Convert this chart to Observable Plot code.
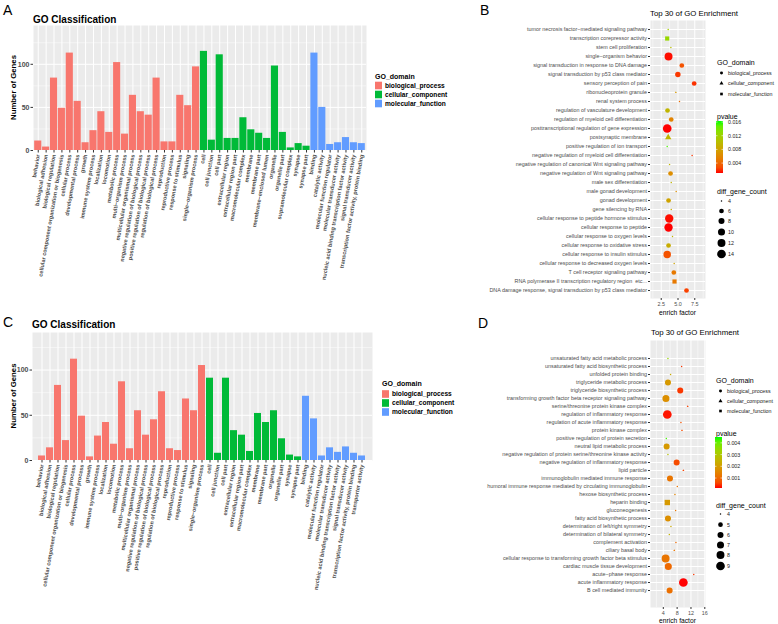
<!DOCTYPE html>
<html><head><meta charset="utf-8">
<script src="https://cdn.jsdelivr.net/npm/d3@7"></script>
<script src="https://cdn.jsdelivr.net/npm/@observablehq/plot@0.6"></script>
<style>
body{margin:0;background:#fff;}
#root{position:relative;width:778px;height:624px;overflow:hidden;background:#fff;}
</style></head><body><div id="root"></div>
<script>
const FONT = "Liberation Sans, Arial, Helvetica, sans-serif";
const domainNames = ["biological_process","cellular_component","molecular_function"];
const domainColors = ["#F8766D","#00BA38","#619CFF"];
const domainCode = {BP:"biological_process", CC:"cellular_component", MF:"molecular_function"};

// ---------- Panel A ----------
const bpTermsA = ["behavior","biological adhesion","biological regulation","cellular component organization or biogenesis","cellular process","developmental process","growth","immune system process","localization","locomotion","metabolic process","multi−organism process","multicellular organismal process","negative regulation of biological process","positive regulation of biological process","regulation of biological process","reproduction","reproductive process","response to stimulus","signaling","single−organism process"];
const bpCountsA = [11,4,84,49,113,57,9,23,45,21,102,19,64,45,41,84,10,10,64,52,97];
const ccTermsA = ["cell","cell junction","cell part","extracellular region","extracellular region part","macromolecular complex","membrane","membrane part","membrane−enclosed lumen","organelle","organelle part","supramolecular complex","synapse","synapse part"];
const ccCountsA = [115,12,111,14,14,38,24,20,14,98,21,3,8,5];
const mfTermsA = ["binding","catalytic activity","molecular function regulator","molecular transducer activity","nucleic acid binding transcription factor activity","signal transducer activity","transcription factor activity, protein binding"];
const mfCountsA = [113,50,7,9,15,9,8];

// ---------- Panel C ----------
const bpTermsC = bpTermsA;
const bpCountsC = [5,14,83,22,112,49,4,27,42,18,87,13,55,28,45,76,13,11,68,55,105];
const ccTermsC = ["cell","cell junction","cell part","extracellular region","extracellular region part","macromolecular complex","membrane","membrane part","organelle","organelle part","synapse","synapse part"];
const ccCountsC = [91,8,91,33,28,10,52,42,55,24,6,4];
const mfTermsC = ["binding","catalytic activity","molecular function regulator","molecular transducer activity","nucleic acid binding transcription factor activity","signal transducer activity","transcription factor activity, protein binding","transporter activity"];
const mfCountsC = [71,46,5,14,9,15,8,5];

const yTicksBar = [0,50,100];
const yMinorBar = [25,75,125];

// ---------- Panel B ----------
const termsB = ["tumor necrosis factor−mediated signaling pathway","transcription corepressor activity","stem cell proliferation","single−organism behavior","signal transduction in response to DNA damage","signal transduction by p53 class mediator","sensory perception of pain","ribonucleoprotein granule","renal system process","regulation of vasculature development","regulation of myeloid cell differentiation","posttranscriptional regulation of gene expression","postsynaptic membrane","positive regulation of ion transport","negative regulation of myeloid cell differentiation","negative regulation of canonical Wnt signaling pathway","negative regulation of Wnt signaling pathway","male sex differentiation","male gonad development","gonad development","gene silencing by RNA","cellular response to peptide hormone stimulus","cellular response to peptide","cellular response to oxygen levels","cellular response to oxidative stress","cellular response to insulin stimulus","cellular response to decreased oxygen levels","T cell receptor signaling pathway","RNA polymerase II transcription regulatory region  etc...","DNA damage response, signal transduction by p53 class mediator"];
const factorB = [3.54,3.39,3.94,3.59,5.57,4.98,7.41,4.68,5.22,3.44,3.99,3.39,3.54,3.39,7.11,3.74,3.89,3.99,4.73,3.59,3.99,3.69,3.59,4.18,3.59,3.39,4.43,4.38,4.48,6.27];
const countB = [4,6,4,12,6,7,6,4,4,6,6,14,6,4,4,4,6,4,4,6,4,13,13,4,6,11,4,6,6,6];
const pvalueB = [0.0118,0.0125,0.0102,0.0012,0.0030,0.0020,0.0018,0.0072,0.0042,0.0095,0.0057,0.0011,0.0095,0.0155,0.0019,0.0095,0.0064,0.0095,0.0064,0.0080,0.0087,0.0012,0.0011,0.0095,0.0087,0.0030,0.0080,0.0050,0.0050,0.0023];
const domainB = ["BP","MF","BP","BP","BP","BP","BP","CC","BP","BP","BP","BP","CC","BP","BP","BP","BP","BP","BP","BP","BP","BP","BP","BP","BP","BP","BP","BP","MF","BP"];
const xDomainB = [0.9,9.1], xTicksB = [2.5,5,7.5], xMinorB = [1.25,3.75,6.25,8.75];
const pDomainB = [0.0011,0.0163], pTicksB = [0.004,0.008,0.012,0.016];
const sizeTicksB = [4,6,8,10,12,14];

// ---------- Panel D ----------
const termsD = ["unsaturated fatty acid metabolic process","unsaturated fatty acid biosynthetic process","unfolded protein binding","triglyceride metabolic process","triglyceride biosynthetic process","transforming growth factor beta receptor signaling pathway","serine/threonine protein kinase complex","regulation of inflammatory response","regulation of acute inflammatory response","protein kinase complex","positive regulation of protein secretion","neutral lipid metabolic process","negative regulation of protein serine/threonine kinase activity","negative regulation of inflammatory response","lipid particle","immunoglobulin mediated immune response","humoral immune response mediated by circulating immunoglobulin","hexose biosynthetic process","heparin binding","gluconeogenesis","fatty acid biosynthetic process","determination of left/right symmetry","determination of bilateral symmetry","complement activation","ciliary basal body","cellular response to transforming growth factor beta stimulus","cardiac muscle tissue development","acute−phase response","acute inflammatory response","B cell mediated immunity"];
const factorD = [5.35,9.3,6.1,5.35,8.9,4.76,11.05,5.16,9.1,9.4,4.87,4.96,5.35,7.86,9.8,5.93,8.06,7.37,5.16,7.57,5.35,6.2,5.74,7.66,7.18,4.67,5.45,12.8,9.8,5.83];
const countD = [4,4,4,6,6,7,4,9,4,4,4,6,4,6,4,6,4,4,6,4,6,4,4,4,4,8,7,4,9,6];
const pvalueD = [0.0034,0.0004,0.0023,0.0019,0.0004,0.0017,0.0005,0.0002,0.0007,0.0006,0.0043,0.0019,0.0028,0.0006,0.0005,0.0012,0.0012,0.0015,0.0019,0.0012,0.0017,0.0023,0.0025,0.0010,0.0012,0.0012,0.0010,0.0004,0.00015,0.0011];
const domainD = ["BP","BP","MF","BP","BP","BP","CC","BP","BP","CC","BP","BP","BP","BP","CC","BP","BP","BP","MF","BP","BP","BP","BP","BP","CC","BP","BP","BP","BP","BP"];
const xDomainD = [0.3,16.2], xTicksD = [4,8,12,16], xMinorD = [2,6,10,14];
const pDomainD = [0.00015,0.0045], pTicksD = [0.001,0.002,0.003,0.004];
const sizeTicksD = [4,5,6,7,8,9];

// ---------- builders ----------
function barRows(bpT,bpC,ccT,ccC,mfT,mfC){
  const rows=[];
  bpT.forEach((t,i)=>rows.push({term:t,count:bpC[i],domain:domainNames[0]}));
  ccT.forEach((t,i)=>rows.push({term:t,count:ccC[i],domain:domainNames[1]}));
  mfT.forEach((t,i)=>rows.push({term:t,count:mfC[i],domain:domainNames[2]}));
  return rows;
}
function dotRows(terms,factor,count,pv,dom){
  return terms.map((t,i)=>({term:t,factor:factor[i],count:count[i],pvalue:pv[i],domain:domainCode[dom[i]]}));
}

function barChart(rows,o){
  return Plot.plot({
    width:o.width,height:o.height,marginTop:o.mt,marginBottom:o.mb,marginLeft:o.ml,marginRight:o.mr,
    style:{fontFamily:FONT,background:"transparent",overflow:"visible"},
    x:{domain:rows.map(d=>d.term),paddingInner:0.1,paddingOuter:0.15,label:null},
    y:{domain:[0,o.ymax],label:null},
    color:{domain:domainNames,range:domainColors},
    marks:[
      Plot.frame({fill:"#EBEBEB",stroke:null}),
      Plot.ruleY(yMinorBar.filter(v=>v<o.ymax),{stroke:"white",strokeWidth:0.5}),
      Plot.ruleY(yTicksBar,{stroke:"white",strokeWidth:1}),
      Plot.ruleX(rows,{x:"term",stroke:"white",strokeWidth:1}),
      Plot.barY(rows,{x:"term",y:"count",fill:"domain"}),
      Plot.axisX({tickRotate:-80,tickSize:2.5,tickPadding:1.5,fontSize:5.6,fontWeight:"bold",fill:"#4D4D4D",stroke:"#333",label:null}),
      Plot.axisY({ticks:yTicksBar,tickSize:2.5,tickPadding:1.5,fontSize:7,fontWeight:"bold",fill:"#4D4D4D",stroke:"#333",label:null})
    ]
  });
}

function dotChart(rows,o){
  return Plot.plot({
    width:o.width,height:o.height,marginTop:o.mt,marginBottom:o.mb,marginLeft:o.ml,marginRight:o.mr,
    style:{fontFamily:FONT,background:"transparent",overflow:"visible"},
    x:{domain:o.xdomain,label:null},
    y:{type:"point",domain:rows.map(d=>d.term),padding:0.6,label:null},
    color:{type:"linear",domain:o.pdomain,range:["#FF0000","#00FF00"],interpolate:d3.interpolateLab},
    r:{type:"sqrt",domain:[0,o.smax-4],range:[0.75,4.35]},
    symbol:{domain:domainNames,range:["circle","triangle","square"]},
    marks:[
      Plot.frame({fill:"#EBEBEB",stroke:null}),
      Plot.ruleX(o.xminor,{stroke:"white",strokeWidth:0.5}),
      Plot.ruleX(o.xticks,{stroke:"white",strokeWidth:1}),
      Plot.ruleY(rows,{y:"term",stroke:"white",strokeWidth:1}),
      Plot.dot(rows,{x:"factor",y:"term",r:d=>d.count-4,fill:"pvalue",symbol:"domain"}),
      Plot.axisX({ticks:o.xticks,tickFormat:o.tickFormat,tickSize:2,tickPadding:1.5,fontSize:5.4,fill:"#4D4D4D",stroke:"#333",label:null}),
      Plot.axisY({tickSize:2,tickPadding:1.5,fontSize:5.4,fill:"#4D4D4D",stroke:"#333",label:null})
    ]
  });
}

const root = document.getElementById("root");
function place(el,left,top){el.style.position="absolute";el.style.left=left+"px";el.style.top=top+"px";root.appendChild(el);}

const rowsA = barRows(bpTermsA,bpCountsA,ccTermsA,ccCountsA,mfTermsA,mfCountsA);
const rowsC = barRows(bpTermsC,bpCountsC,ccTermsC,ccCountsC,mfTermsC,mfCountsC);
const rowsB = dotRows(termsB,factorB,countB,pvalueB,domainB);
const rowsD = dotRows(termsD,factorD,countD,pvalueD,domainD);

const chartA = barChart(rowsA,{width:372,height:300,mt:25,mb:150,ml:33,mr:6,ymax:145});
place(chartA,0,0);
const chartC = barChart(rowsC,{width:376,height:324,mt:32,mb:164,ml:32,mr:4,ymax:141.5});
place(chartC,0,300);
const chartB = dotChart(rowsB,{width:232,height:320,mt:20,mb:22,ml:172,mr:5,xdomain:xDomainB,xticks:xTicksB,xminor:xMinorB,pdomain:pDomainB,smax:14,tickFormat:d3.format(".1f")});
place(chartB,478,0);
const chartD = dotChart(rowsD,{width:232,height:304,mt:20,mb:17,ml:172,mr:5,xdomain:xDomainD,xticks:xTicksD,xminor:xMinorD,pdomain:pDomainD,smax:9,tickFormat:d3.format("d")});
place(chartD,478,320);

// ---------- overlay text & legends ----------
const ov = d3.select(root).append("svg").attr("width",778).attr("height",624)
  .style("position","absolute").style("left","0px").style("top","0px").style("font-family",FONT);
const defs = ov.append("defs");
function txt(x,y,s,o={}){
  const t=ov.append("text").attr("x",x).attr("y",y).text(s).attr("font-size",o.size||8).attr("fill",o.fill||"#000");
  if(o.weight) t.attr("font-weight",o.weight);
  if(o.anchor) t.attr("text-anchor",o.anchor);
  if(o.rotate) t.attr("transform",`rotate(${o.rotate},${x},${y})`);
  if(o.baseline) t.attr("dominant-baseline",o.baseline);
  return t;
}
// panel letters
txt(3,15,"A",{size:14});
txt(480,15,"B",{size:14});
txt(3,327,"C",{size:14});
txt(478,328,"D",{size:14});
// bar titles / axis titles
txt(33,23,"GO Classification",{size:10,weight:"bold"});
txt(32,328,"GO Classification",{size:10,weight:"bold"});
txt(13,87.5,"Number of Genes",{size:7.8,weight:"bold",anchor:"middle",rotate:-90,baseline:"central"});
txt(13,396,"Number of Genes",{size:7.8,weight:"bold",anchor:"middle",rotate:-90,baseline:"central"});

function barLegend(x,titleY,itemYs){
  txt(x,titleY,"GO_domain",{size:7,weight:"bold"});
  domainNames.forEach((n,i)=>{
    ov.append("rect").attr("x",x).attr("y",itemYs[i]-3.8).attr("width",7).attr("height",7.6).attr("fill",domainColors[i]);
    txt(x+10,itemYs[i]+2.3,n,{size:6.6,weight:"bold"});
  });
}
barLegend(375,79,[85.5,94.5,103.5]);
barLegend(382,386,[394,403,412]);

// dot panel titles
txt(650,15.5,"Top 30 of GO Enrichment",{size:7.8});
txt(651,335,"Top 30 of GO Enrichment",{size:7.8});
txt(677.5,315,"enrich factor",{size:6.7,anchor:"middle"});
txt(677.5,622.5,"enrich factor",{size:6.7,anchor:"middle"});

function dotLegend(chart,id,o){
  const x=o.x;
  // GO_domain shapes
  txt(x,o.goTitle,"GO_domain",{size:7});
  const types=[d3.symbolCircle,d3.symbolTriangle,d3.symbolSquare];
  domainNames.forEach((n,i)=>{
    ov.append("path").attr("d",d3.symbol().type(types[i]).size(7)()).attr("transform",`translate(${x+4.5},${o.goItems[i]})`).attr("fill","#000");
    txt(x+11,o.goItems[i]+2,n,{size:5.3,fill:"#222"});
  });
  // pvalue colorbar
  txt(x,o.pvTitle,"pvalue",{size:7});
  const cs = chart.scale("color");
  const grad = defs.append("linearGradient").attr("id",id).attr("x1",0).attr("x2",0).attr("y1",1).attr("y2",0);
  d3.range(0,1.0001,0.1).forEach(t=>{
    const v = cs.domain[0]+t*(cs.domain[1]-cs.domain[0]);
    grad.append("stop").attr("offset",t).attr("stop-color",cs.apply(v));
  });
  const bx=x-1, bw=7;
  ov.append("rect").attr("x",bx).attr("y",o.barTop).attr("width",bw).attr("height",o.barBottom-o.barTop).attr("fill",`url(#${id})`);
  const py = v => o.barBottom - (v-cs.domain[0])/(cs.domain[1]-cs.domain[0])*(o.barBottom-o.barTop);
  o.pticks.forEach(v=>{
    const y=py(v);
    ov.append("line").attr("x1",bx).attr("x2",bx+1.5).attr("y1",y).attr("y2",y).attr("stroke","white").attr("stroke-width",0.6);
    ov.append("line").attr("x1",bx+bw-1.5).attr("x2",bx+bw).attr("y1",y).attr("y2",y).attr("stroke","white").attr("stroke-width",0.6);
    txt(x+11,y+2,d3.format(".3f")(v),{size:5.3,fill:"#222"});
  });
  // size legend
  txt(x,o.sizeTitle,"diff_gene_count",{size:7});
  const rs = chart.scale("r");
  o.sizes.forEach((s,i)=>{
    ov.append("circle").attr("cx",x+4.5).attr("cy",o.sizeYs[i]).attr("r",rs.apply(s-4)).attr("fill","#000");
    txt(x+11,o.sizeYs[i]+2,String(s),{size:5.3,fill:"#222"});
  });
}
dotLegend(chartB,"gradB",{x:717,goTitle:64.5,goItems:[73,83.3,94],pvTitle:118.5,barTop:121,barBottom:173,pticks:pTicksB,sizeTitle:193.5,sizes:sizeTicksB,sizeYs:[201,211,221,232,243,254]});
dotLegend(chartD,"gradD",{x:716,goTitle:382.5,goItems:[391,401,411],pvTitle:435.5,barTop:437,barBottom:488,pticks:pTicksD,sizeTitle:507.5,sizes:sizeTicksD,sizeYs:[514,524.7,535,545,555,566]});
</script></body></html>
